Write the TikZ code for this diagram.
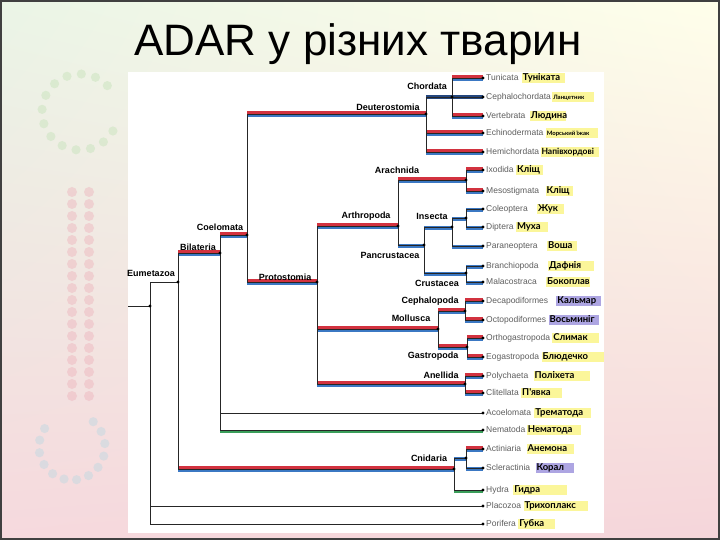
\documentclass[tikz,border=0pt]{standalone}
\usepackage{fontspec}
\setmainfont{Liberation Sans}
\newfontfamily\ukrfont{Lato}
\usetikzlibrary{positioning,shadings}

\definecolor{barred}{HTML}{D2323F}
\definecolor{barblue}{HTML}{3B78C3}
\definecolor{barnavy}{HTML}{24477E}
\definecolor{bargreen}{HTML}{3A9E5A}
\definecolor{hiyel}{HTML}{FBF69A}
\definecolor{hilav}{HTML}{ADA5E2}
\definecolor{latgray}{HTML}{5E5E5E}
\definecolor{rnapink}{HTML}{EDB3BC}
\definecolor{rnagreen}{HTML}{C4E2B8}
\definecolor{rnablue}{HTML}{BCD8E2}

\tikzset{
  skel/.style={draw=black!85, line width=0.7pt},
  redbar/.style={draw=barred, line width=2.6pt, transform canvas={yshift=1.3pt}},
  bluebar/.style={draw=barblue, line width=2.6pt, transform canvas={yshift=-1.3pt}},
  navybar/.style={draw=barnavy, line width=4pt},
  onlyblue/.style={draw=barblue, line width=4pt, transform canvas={yshift=-0.6pt}},
  greenbar/.style={draw=bargreen, line width=3.4pt, transform canvas={yshift=-1.2pt}},
  clade/.style={font=\bfseries\fontsize{9}{10}\selectfont, inner sep=0pt},
  latin/.style={font=\fontsize{8.5}{10}\selectfont, text=latgray, anchor=west, inner sep=0pt, text height=6pt, text depth=1.5pt},
  ukr/.style={inner sep=1pt, text height=6.8pt, text depth=2pt},
  rnadot/.style={opacity=0.45}
}

\begin{document}
\begin{tikzpicture}[x=1pt,y=-1pt]
\useasboundingbox (0,0) rectangle (720,540);
\shade[upper left=rnagreen!35!white, upper right=yellow!8!white, lower left=rnapink!50!white, lower right=rnapink!55!white] (0,0) rectangle (720,540);

\foreach \k in {0,...,17} {
  \fill[rnapink, rnadot] (72,192+12*\k) circle (5);
  \fill[rnapink, rnadot] (89,192+12*\k) circle (5);
}
\foreach \a in {30,52,...,330}
  \fill[rnagreen, rnadot, shift={(80,112)}] (\a:38) circle (4.6);
\foreach \a in {-50,-28,...,230}
  \fill[rnablue, rnadot, shift={(72,447)}] (\a:33) circle (4.6);

\fill[white] (128,72) rectangle (604,533);

\node[font=\fontsize{44}{48}\selectfont, anchor=base] (title) at (358,56) {ADAR у різних тварин};

\foreach \n/\y/\lat/\g/\w/\fc/\fs/\uk in {
  tunic/78/Tunicata/3/41/hiyel/9.5/Туніката,
  cephalo/97/Cephalochordata/1/40/hiyel/6/Ланцетник,
  vert/116/Vertebrata/4/34/hiyel/9.5/Людина,
  echino/133/Echinodermata/2/50/hiyel/6/Морський їжак,
  hemi/152/Hemichordata/1/56/hiyel/8.5/Напівхордові,
  ixod/170/Ixodida/2/25/hiyel/9.5/Кліщ,
  meso/191/Mesostigmata/6/25/hiyel/9.5/Кліщ,
  coleo/209/Coleoptera/9/25/hiyel/9.5/Жук,
  dipt/227/Diptera/2/30/hiyel/9.5/Муха,
  paran/246/Paraneoptera/9/28/hiyel/9.5/Воша,
  branch/266/Branchiopoda/9/44/hiyel/9.5/Дафнія,
  malac/282/Malacostraca/9/42/hiyel/9.5/Бокоплав,
  deca/301/Decapodiformes/8/43/hilav/9.5/Кальмар,
  octo/320/Octopodiformes/2/48/hilav/9.5/Восьминіг,
  ortho/338/Orthogastropoda/2/45/hiyel/9.5/Слимак,
  eoga/357/Eogastropoda/2/60/hiyel/9.5/Блюдечко,
  poly/376/Polychaeta/5/54/hiyel/9.5/Поліхета,
  clit/393/Clitellata/2/39/hiyel/9.5/П'явка,
  acoel/413/Acoelomata/3/55/hiyel/9.5/Трематода,
  nemat/430/Nematoda/1/52/hiyel/9.5/Нематода,
  actin/449/Actiniaria/5/45/hiyel/9.5/Анемона,
  scler/468/Scleractinia/5/36/hilav/9.5/Корал,
  hydra/490/Hydra/4/52/hiyel/9.5/Гидра,
  placo/506/Placozoa/2/62/hiyel/9.5/Трихоплакс,
  porif/524/Porifera/2/35/hiyel/9.5/Губка} {
  \coordinate (\n) at (483,\y);
  \node[latin] (\n-l) at (486,\y) {\lat};
  \node[ukr, fill=\fc, font=\ukrfont\bfseries\fontsize{\fs}{10}\selectfont, right=\g pt of \n-l] (\n-u) {\makebox[\w pt][l]{\uk}};
}

\coordinate (rootst) at (128,306);
\coordinate (root) at (150,306);
\coordinate (eumet) at (178,282);
\coordinate (bilat) at (220,253);
\coordinate (coel) at (247,235);
\coordinate (deut) at (426,114);
\coordinate (chord) at (452,97);
\coordinate (proto) at (317,282);
\coordinate (arthro) at (398,226);
\coordinate (arach) at (466,180);
\coordinate (pancr) at (424,245);
\coordinate (insec) at (452,227);
\coordinate (coldip) at (466,218);
\coordinate (crust) at (466,273);
\coordinate (moll) at (438,329);
\coordinate (cephp) at (465,311);
\coordinate (gast) at (467,347);
\coordinate (anell) at (465,384);
\coordinate (cnid) at (454,469);
\coordinate (actscl) at (466,458);

\foreach \p/\c in {eumet/bilat, bilat/coel, coel/deut, coel/proto, deut/echino, deut/hemi,
    chord/tunic, chord/vert, proto/arthro, proto/moll, proto/anell, arthro/arach,
    arach/ixod, arach/meso, moll/cephp, moll/gast, cephp/deca, cephp/octo,
    gast/ortho, gast/eoga, anell/poly, anell/clit, eumet/cnid, actscl/actin} {
  \draw[redbar] (\p |- \c) -- (\c);
  \draw[bluebar] (\p |- \c) -- (\c);
}
\foreach \p/\c in {deut/chord, chord/cephalo}
  \draw[navybar] (\p |- \c) -- (\c);
\foreach \p/\c in {arthro/pancr, pancr/insec, pancr/crust, insec/coldip, insec/paran,
    coldip/coleo, coldip/dipt, crust/branch, crust/malac, cnid/actscl, actscl/scler}
  \draw[onlyblue] (\p |- \c) -- (\c);
\foreach \p/\c in {bilat/nemat, cnid/hydra}
  \draw[greenbar] (\p |- \c) -- (\c);

\draw[skel] (rootst) -- (root);
\foreach \p/\c in {root/eumet, root/placo, root/porif, eumet/bilat, eumet/cnid,
    bilat/coel, bilat/acoel, bilat/nemat, coel/deut, coel/proto, deut/chord, deut/echino,
    deut/hemi, chord/tunic, chord/cephalo, chord/vert, proto/arthro, proto/moll,
    proto/anell, arthro/arach, arthro/pancr, arach/ixod, arach/meso, pancr/insec,
    pancr/crust, insec/coldip, insec/paran, coldip/coleo, coldip/dipt, crust/branch,
    crust/malac, moll/cephp, moll/gast, cephp/deca, cephp/octo, gast/ortho, gast/eoga,
    anell/poly, anell/clit, cnid/actscl, cnid/hydra, actscl/actin, actscl/scler}
  \draw[skel] (\p |- \c) -- (\c);
\foreach \n/\a/\b in {root/eumet/porif, eumet/bilat/cnid, bilat/coel/nemat,
    coel/deut/proto, deut/chord/hemi, chord/tunic/vert, proto/arthro/anell,
    arthro/arach/pancr, arach/ixod/meso, pancr/insec/crust, insec/coldip/paran,
    coldip/coleo/dipt, crust/branch/malac, moll/cephp/gast, cephp/deca/octo,
    gast/ortho/eoga, anell/poly/clit, cnid/actscl/hydra, actscl/actin/scler}
  \draw[skel] (\n |- \a) -- (\n |- \b);

\foreach \n in {root, eumet, bilat, coel, deut, chord, proto, arthro, arach, pancr,
    insec, coldip, crust, moll, cephp, gast, anell, cnid, actscl,
    tunic, cephalo, vert, echino, hemi, ixod, meso, coleo, dipt, paran, branch, malac,
    deca, octo, ortho, eoga, poly, clit, acoel, nemat, actin, scler, hydra, placo, porif}
  \fill (\n) circle (1.6);

\node[clade] (chordL) at (427,86) {Chordata};
\node[clade] (deutL) at (388,107) {Deuterostomia};
\node[clade] (arachL) at (397,170) {Arachnida};
\node[clade] (arthroL) at (366,216) {Arthropoda};
\node[clade] (insecL) at (432,216) {Insecta};
\node[clade] (pancrL) at (390,255) {Pancrustacea};
\node[clade] (crustL) at (437,283) {Crustacea};
\node[clade] (cephpL) at (430,301) {Cephalopoda};
\node[clade] (mollL) at (411,318) {Mollusca};
\node[clade] (gastL) at (433,356) {Gastropoda};
\node[clade] (anellL) at (441,375) {Anellida};
\node[clade] (cnidL) at (429,458) {Cnidaria};
\node[clade] (coelL) at (220,227) {Coelomata};
\node[clade] (bilatL) at (198,247) {Bilateria};
\node[clade] (eumetL) at (151,273) {Eumetazoa};
\node[clade] (protoL) at (285,277) {Protostomia};

\draw[draw=black!75, line width=2pt] (1,1) rectangle (719,539);
\end{tikzpicture}
\end{document}
